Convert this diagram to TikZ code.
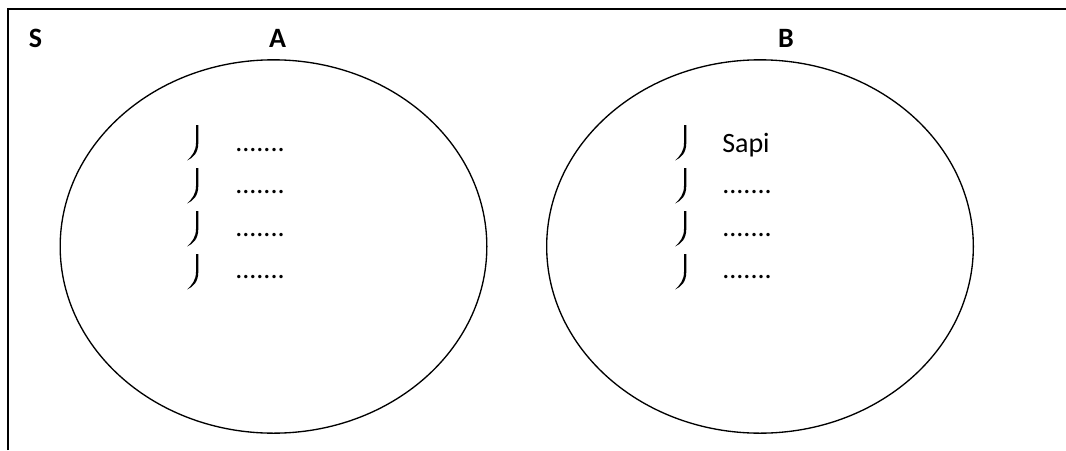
\documentclass[tikz,border=0pt]{standalone}
\usepackage{fontspec}
\setmainfont{Carlito}
\usetikzlibrary{shapes.geometric,positioning}

\begin{document}
\begin{tikzpicture}[x=0.75pt, y=-0.75pt,
  frame/.style={line width=1.3pt},
  setshape/.style={draw, ellipse, line width=1pt, minimum width=320pt, minimum height=280pt},
  setname/.style={font=\fontsize{21}{25}\selectfont\bfseries, anchor=base, inner sep=0pt},
  item/.style={font=\fontsize{21}{25}\selectfont, anchor=base west, inner sep=0pt},
  hook/.pic={\fill (-1,0) -- (1.3,0) -- (1.3,18) .. controls (1.3,28) and (-4,33) .. (-10,35.5)
                   .. controls (-5,31) and (-1,26) .. (-1,18) -- cycle;}]
\useasboundingbox (0,0) rectangle (1066,450);
\draw[frame] (8,450) |- (1066,9);
% the two sets
\node[setshape] (setA) at (273.5,246.5) {};
\node[setshape] (setB) at (760,246.5) {};
\node[setname] (s) at (35.5,47.5) {S};
\node[setname] (a) at (277.5,47.5) {A};
\node[setname] (b) at (786,47.5) {B};
% members
\foreach \i in {0,...,3} {
  \pic at (197,125+43*\i) {hook};
  \node[item] (a\i) at (235,151+42.5*\i) {.......};
  \pic at (685,125+43*\i) {hook};
}
\node[item] (b0) at (722,152) {Sapi};
\foreach \i in {1,2,3}
  \node[item] (b\i) at (722,151+42.5*\i) {.......};
\end{tikzpicture}
\end{document}
